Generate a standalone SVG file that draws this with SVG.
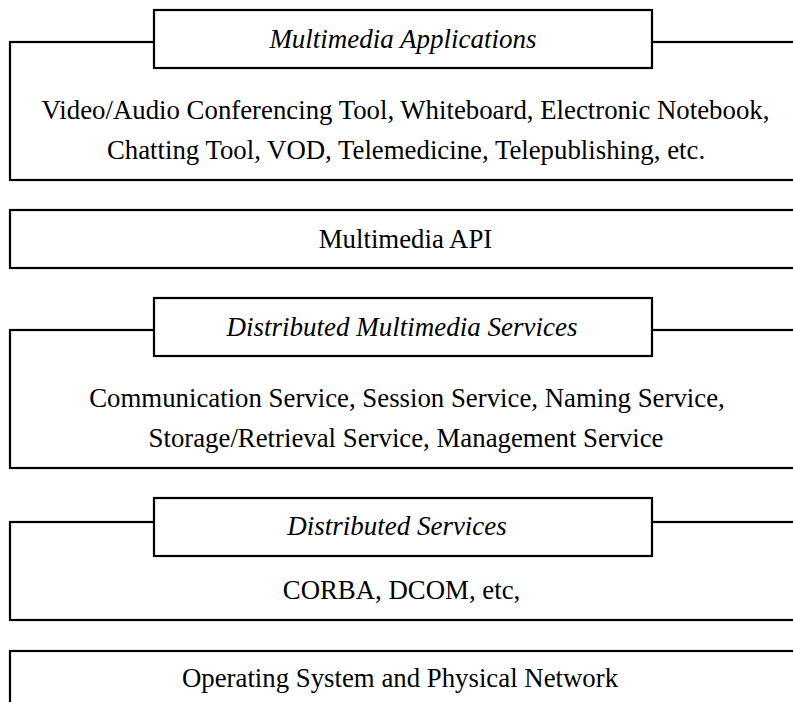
<svg xmlns="http://www.w3.org/2000/svg" width="793" height="702" viewBox="0 0 793 702">
  <style>
    .frame { fill: #ffffff; stroke: #000000; stroke-width: 2.2; }
    .body { font-family: "Liberation Serif", "Times New Roman", serif; font-size: 26.8px; fill: #000000; text-anchor: middle; }
    .title { font-family: "Liberation Serif", "Times New Roman", serif; font-size: 27px; font-style: italic; fill: #000000; text-anchor: middle; }
  </style>
  <rect width="793" height="702" fill="#ffffff"/>

  <!-- Layer 1: applications -->
  <g id="multimedia-applications">
    <rect class="frame" x="10" y="42" width="800" height="138"/>
    <rect class="frame" x="154" y="10" width="498" height="58"/>
    <text class="title" x="403" y="48">Multimedia Applications</text>
    <text class="body" x="405.5" y="119">Video/Audio Conferencing Tool, Whiteboard, Electronic Notebook,</text>
    <text class="body" x="406" y="159">Chatting Tool, VOD, Telemedicine, Telepublishing, etc.</text>
  </g>

  <!-- Layer 2: API -->
  <g id="multimedia-api">
    <rect class="frame" x="10" y="210" width="800" height="58"/>
    <text class="body" x="405.5" y="248">Multimedia API</text>
  </g>

  <!-- Layer 3: distributed multimedia services -->
  <g id="distributed-multimedia-services">
    <rect class="frame" x="10" y="330" width="800" height="138"/>
    <rect class="frame" x="154" y="298" width="498" height="58"/>
    <text class="title" x="402" y="336">Distributed Multimedia Services</text>
    <text class="body" x="407" y="407">Communication Service, Session Service, Naming Service,</text>
    <text class="body" x="406" y="447">Storage/Retrieval Service, Management Service</text>
  </g>

  <!-- Layer 4: distributed services -->
  <g id="distributed-services">
    <rect class="frame" x="10" y="522" width="800" height="98"/>
    <rect class="frame" x="154" y="498" width="498" height="58"/>
    <text class="title" x="397" y="535">Distributed Services</text>
    <text class="body" x="401.5" y="599">CORBA, DCOM, etc,</text>
  </g>

  <!-- Layer 5: OS and network -->
  <g id="operating-system">
    <rect class="frame" x="10" y="651" width="800" height="80"/>
    <text class="body" x="400" y="687">Operating System and Physical Network</text>
  </g>

  <g id="connectors"/>
</svg>
